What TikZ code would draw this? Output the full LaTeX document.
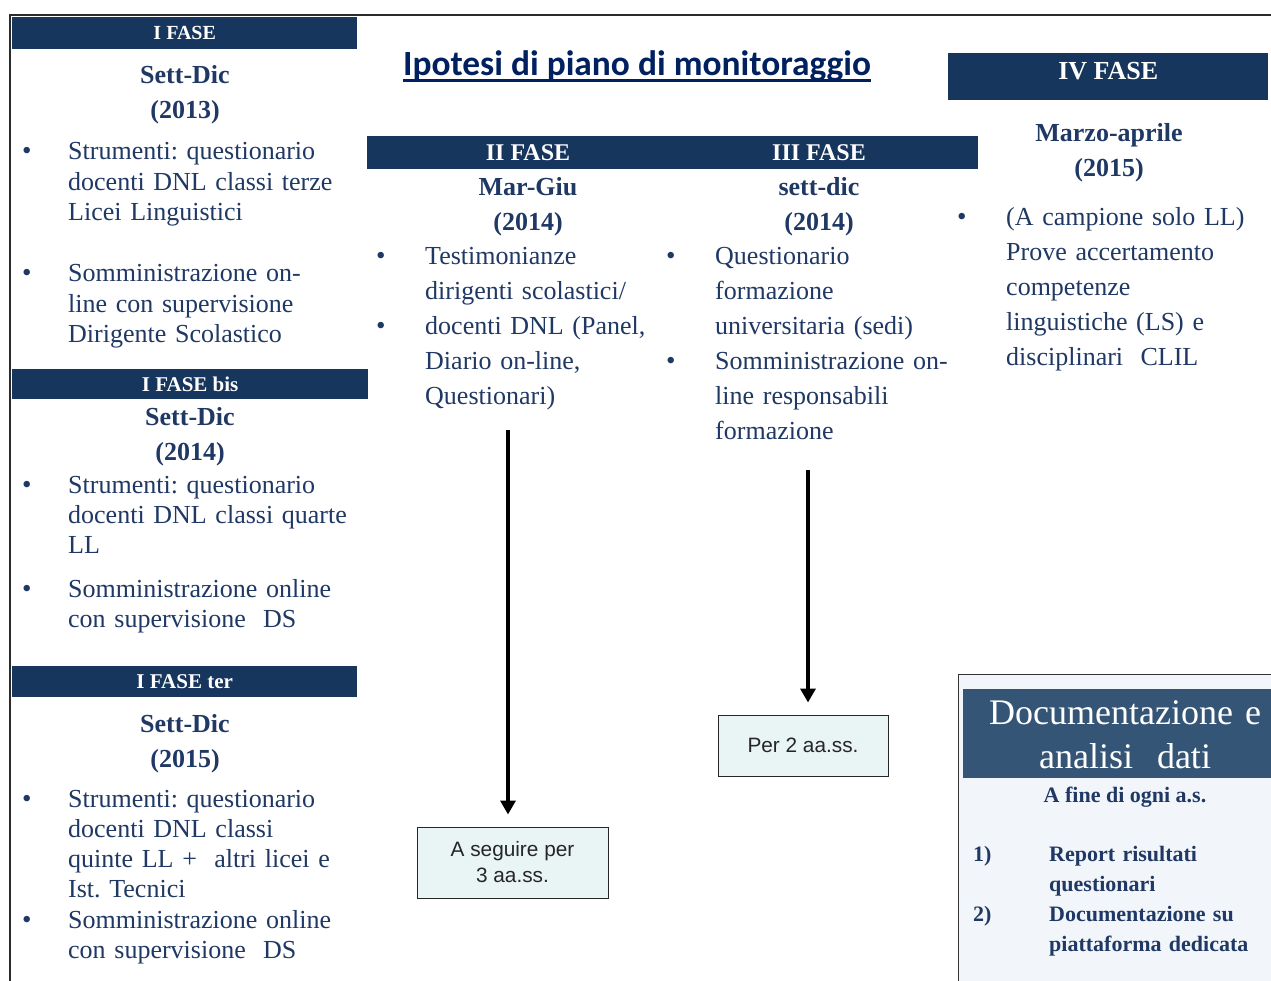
\documentclass[tikz,border=0pt]{standalone}
\usepackage{fontspec}
\setmainfont{Liberation Serif}
\newfontfamily\titlefont{Carlito}
\newfontfamily\boxfont{Liberation Sans}
\usetikzlibrary{arrows.meta}
\definecolor{hdrblue}{HTML}{17365D}
\definecolor{txtblue}{HTML}{1F3864}
\definecolor{titleblue}{HTML}{002060}
\definecolor{docblue}{HTML}{345575}
\definecolor{docbg}{HTML}{F2F6FA}
\definecolor{boxbg}{HTML}{E9F4F5}
\definecolor{framecol}{HTML}{2B2B2B}
\frenchspacing
\begin{document}
\begin{tikzpicture}[x=1pt,y=-1pt,
  hdr/.style={fill=hdrblue, text=white, inner sep=0pt, anchor=north west,
    font=\bfseries\fontsize{21}{24}\selectfont},
  hdrtext/.style={text=white, inner sep=0pt, anchor=base,
    font=\bfseries\fontsize{24}{24}\selectfont},
  body/.style={text=txtblue, anchor=base west, inner sep=0pt, text width=330pt, align=left,
    font=\fontsize{26}{30.3}\selectfont},
  bodywide/.style={body, font=\fontsize{26}{35}\selectfont},
  bul/.style={text=txtblue, anchor=base west, inner sep=0pt, font=\fontsize{27}{30}\selectfont},
  datebox/.style={text=txtblue, anchor=base, inner sep=0pt, text width=260pt, align=center,
    font=\bfseries\fontsize{26}{35}\selectfont},
  smallbox/.style={draw=black!85, line width=1pt, fill=boxbg, text=black!85, inner sep=0pt,
    align=center, font=\boxfont\fontsize{20.8}{26}\selectfont},
  arr/.style={line width=4pt, -{Triangle[length=14pt,width=15pt]}, shorten >=12pt},
  frame/.style={draw=framecol, line width=2.5pt},
  docbold/.style={text=txtblue, inner sep=0pt, font=\bfseries\fontsize{22}{30}\selectfont}
]
\useasboundingbox (0,0) rectangle (1271,981);
\fill[white] (0,0) rectangle (1271,981);

% outer frame
\coordinate (ftl) at (10,15);
\coordinate (ftr) at (1271,15);
\coordinate (fbl) at (10,981);
\draw[frame] (ftr) -- (ftl) -- (fbl);

% title
\node[text=titleblue, inner sep=0pt, anchor=base, font=\titlefont\bfseries\fontsize{35.4}{38}\selectfont]
  (title) at (637,76) {Ipotesi di piano di monitoraggio};
\draw[titleblue, line width=3pt] ([yshift=-5pt]title.base west) -- ([yshift=-5pt]title.base east);

% ---------------- I FASE ----------------
\node[hdr, minimum width=345pt, minimum height=32pt, font=\bfseries\fontsize{20}{24}\selectfont] (h1) at (12,17) {I FASE};
\node[datebox] (d1) at (185,84) {Sett-Dic\\(2013)};
\node[bul] (b11) at (22,160) {\textbullet};
\node[body] (t11) at (68,160) {Strumenti: questionario\\docenti DNL classi terze\\Licei Linguistici};
\node[bul] (b12) at (22,282) {\textbullet};
\node[body] (t12) at (68,282) {Somministrazione on-\\line con supervisione\\Dirigente Scolastico};

% ---------------- I FASE bis ----------------
\node[hdr, minimum width=356pt, minimum height=30pt] (h1b) at (12,369) {I FASE bis};
\node[datebox] (d1b) at (190,425) {Sett-Dic\\(2014)};
\node[bul] (b13) at (22,493) {\textbullet};
\node[body] (t13) at (68,493) {Strumenti: questionario\\docenti DNL classi quarte\\LL};
\node[bul] (b14) at (22,597) {\textbullet};
\node[body] (t14) at (68,597) {Somministrazione online\\con supervisione\ \ DS};

% ---------------- I FASE ter ----------------
\node[hdr, minimum width=345pt, minimum height=31pt] (h1t) at (12,666) {I FASE ter};
\node[datebox] (d1t) at (185,732) {Sett-Dic\\(2015)};
\node[bul] (b15) at (22,807) {\textbullet};
\node[body] (t15) at (68,807) {Strumenti: questionario\\docenti DNL classi\\quinte LL +\ \ altri licei e\\Ist. Tecnici};
\node[bul] (b16) at (22,928) {\textbullet};
\node[body] (t16) at (68,928) {Somministrazione online\\con supervisione\ \ DS};

% ---------------- II / III FASE ----------------
\node[hdr, minimum width=611pt, minimum height=33pt] (h23) at (367,136) {};
\node[hdrtext] (h2) at (528,161) {II FASE};
\node[hdrtext] (h3) at (819,161) {III FASE};
\node[datebox] (d2) at (528,196) {Mar-Giu\\(2014)};
\node[datebox] (d3) at (819,196) {sett-dic\\(2014)};

\node[bul] (b21) at (376,265) {\textbullet};
\node[bodywide] (t21) at (425,265) {Testimonianze\\dirigenti scolastici/};
\node[bul] (b22) at (376,335) {\textbullet};
\node[bodywide] (t22) at (425,335) {docenti DNL (Panel,\\Diario on-line,\\Questionari)};

\node[bul] (b31) at (666,265) {\textbullet};
\node[bodywide] (t31) at (715,265) {Questionario\\formazione\\universitaria (sedi)};
\node[bul] (b32) at (666,370) {\textbullet};
\node[bodywide] (t32) at (715,370) {Somministrazione on-\\line responsabili\\formazione};

% ---------------- IV FASE ----------------
\node[hdr, minimum width=320pt, minimum height=47pt, text height=16pt, text depth=11pt,
  font=\bfseries\fontsize{26}{28}\selectfont] (h4) at (948,53) {IV FASE};
\node[datebox] (d4) at (1109,142) {Marzo-aprile\\(2015)};
\node[bul] (b41) at (957,226) {\textbullet};
\node[bodywide] (t41) at (1006,226) {(A campione solo LL)\\Prove accertamento\\competenze\\linguistiche (LS) e\\disciplinari\ \ CLIL};

% ---------------- arrows and boxes ----------------
\node[smallbox, minimum width=191pt, minimum height=71pt] (box1) at (512.5,862.5) {A seguire per\\3 aa.ss.};
\node[smallbox, minimum width=170pt, minimum height=61pt] (box2) at (803,745.5) {Per 2 aa.ss.};
\coordinate (s1) at (508,430);
\coordinate (s2) at (808,470);
\draw[arr] (s1) -- (s1 |- box1.north);
\draw[arr] (s2) -- (s2 |- box2.north);

% ---------------- Documentazione ----------------
\node[draw=black!80, line width=1pt, fill=docbg, anchor=north west, inner sep=0pt,
  minimum width=330pt, minimum height=330pt] (docbox) at (958,674) {};
\node[fill=docblue, anchor=north west, inner sep=0pt, minimum width=320pt, minimum height=89pt] (docband) at (963,689) {};
\node[text=white, inner sep=0pt, anchor=base, text width=320pt, align=center,
  font=\fontsize{36}{44}\selectfont] (doctitle) at (1125,724) {Documentazione e\\analisi\ \ dati};
\node[docbold, anchor=base] (docsub) at (1125,802) {A fine di ogni a.s.};
\node[docbold, anchor=base west] (n1) at (973,861) {1)};
\node[docbold, anchor=base west, text width=220pt, align=left] (l1) at (1049,861) {Report risultati\\questionari};
\node[docbold, anchor=base west] (n2) at (973,921) {2)};
\node[docbold, anchor=base west, text width=220pt, align=left] (l2) at (1049,921) {Documentazione su\\piattaforma dedicata};
\end{tikzpicture}
\end{document}
